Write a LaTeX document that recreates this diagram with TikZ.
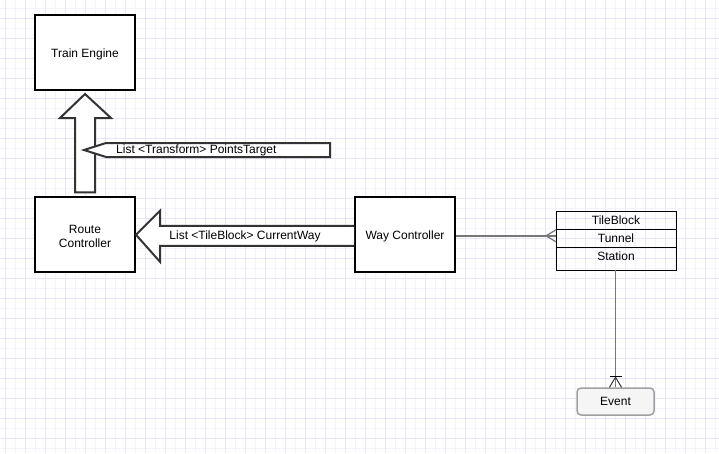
\documentclass[tikz,border=0pt]{standalone}
\usepackage{fontspec}
\setmainfont{Liberation Sans}
\usetikzlibrary{calc}
\definecolor{gridA}{RGB}{230,230,250}
\definecolor{gridB}{RGB}{243,243,252}
\definecolor{strk}{RGB}{51,51,51}
\definecolor{conn}{RGB}{120,120,120}
\definecolor{evfill}{RGB}{245,245,245}
\definecolor{evdraw}{RGB}{160,160,160}
\tikzset{
  box/.style={draw=black, line width=2pt, fill=white, minimum width=100pt, minimum height=75pt, inner sep=0pt},
  rowtxt/.style={inner sep=0pt, minimum width=120pt, minimum height=18pt, font=\fontsize{12pt}{14pt}\selectfont},
  fatarrow/.style={draw=strk, line width=2pt, fill=white, line join=miter},
  lbl/.style={inner sep=0pt, font=\fontsize{12pt}{14pt}\selectfont, align=center},
  connline/.style={draw=conn, line width=1.8pt},
  evbox/.style={draw=evdraw, fill=evfill, line width=1.5pt, rounded corners=4pt, minimum width=77pt, minimum height=27pt, inner sep=0pt, font=\fontsize{12pt}{14pt}\selectfont}
}
\begin{document}
\begin{tikzpicture}[x=1pt,y=-1pt]
\useasboundingbox (0,0) rectangle (719,453);
\fill[white] (0,0) rectangle (719,453);
% grid
\foreach \x in {15,35,...,715} \draw[gridB, line width=1pt] (\x,0) -- (\x,453);
\foreach \y in {8,28,...,448} \draw[gridB, line width=1pt] (0,\y) -- (719,\y);
\foreach \x in {5,25,...,715} \draw[gridA, line width=1pt] (\x,0) -- (\x,453);
\foreach \y in {18,38,...,448} \draw[gridA, line width=1pt] (0,\y) -- (719,\y);

% boxes
\node[box] (te) at (85,52.5) {};
\node[lbl] (tet) at ($(te.center)+(0,1.5)$) {Train Engine};
\node[box] (rc) at (85,234.8) {};
\node[lbl] (rct) at ($(rc.center)+(0,1.5)$) {Route\\Controller};
\node[box] (wc) at (405,234.8) {};
\node[lbl] (wct) at ($(wc.center)+(0,1.5)$) {Way Controller};

% fat up arrow: Route Controller -> Train Engine
\draw[fatarrow] ($(rc.north)+(-10,-4)$) -- ($(te.south)+(-10,27)$) -- ($(te.south)+(-25,27)$)
  -- ($(te.south)+(0,3)$) -- ($(te.south)+(26,27)$) -- ($(te.south)+(10,27)$)
  -- ($(rc.north)+(10,-4)$) -- cycle;

% label arrow PointsTarget
\coordinate (pt) at (84,150);
\draw[fatarrow] (pt) -- ++(22,-7) -- ++(224,0) -- ++(0,14) -- ++(-224,0) -- cycle;
\node[lbl, anchor=west] (ptl) at (116,150.5) {List <Transform> PointsTarget};

% fat left arrow: Way Controller -> Route Controller
\draw[fatarrow] (wc.west |- 0,225.8) -- (160,225.8) -- (160,210.8) -- (rc.east) -- (160,261.8)
  -- (160,245.8) -- (wc.west |- 0,245.8) ;
\node[lbl] (cwl) at (245,236) {List <TileBlock> CurrentWay};

% table
\node[rowtxt] (tb) at (616,220.5) {TileBlock};
\node[rowtxt] (tu) at (616,238.5) {Tunnel};
\node[rowtxt] (st) at (616,256.5) {Station};
\coordinate (tblnw) at (556,211);
\coordinate (tblse) at (676,270);
\draw[black, line width=1pt] (tblnw) rectangle (tblse);
\draw[black, line width=1pt] (556,229) -- (676,229);
\draw[black, line width=1pt] (556,247) -- (676,247);

% connector Way Controller -- Tunnel (many)
\coordinate (tuL) at ($(wc.east -| tblnw)+(0,1)$);
\draw[connline] (wc.east |- tuL) -- (tuL);
\draw[connline, line width=1.2pt] ($(tuL)+(-10,0)$) -- ($(tuL)+(0,-6)$);
\draw[connline, line width=1.2pt] ($(tuL)+(-10,0)$) -- ($(tuL)+(0,6)$);

% Event
\node[evbox] (ev) at (615.5,401.5) {Event};
\coordinate (tblB) at (ev.north |- tblse);
\draw[connline] (tblB) -- (ev.north);
\draw[black, line width=1pt] ($(ev.north)+(-6,-11)$) -- ($(ev.north)+(6,-11)$);
\draw[draw=strk, line width=1pt] ($(ev.north)+(0,-10)$) -- ($(ev.north)+(-6,0)$);
\draw[draw=strk, line width=1pt] ($(ev.north)+(0,-10)$) -- ($(ev.north)+(6,0)$);
\end{tikzpicture}
\end{document}
